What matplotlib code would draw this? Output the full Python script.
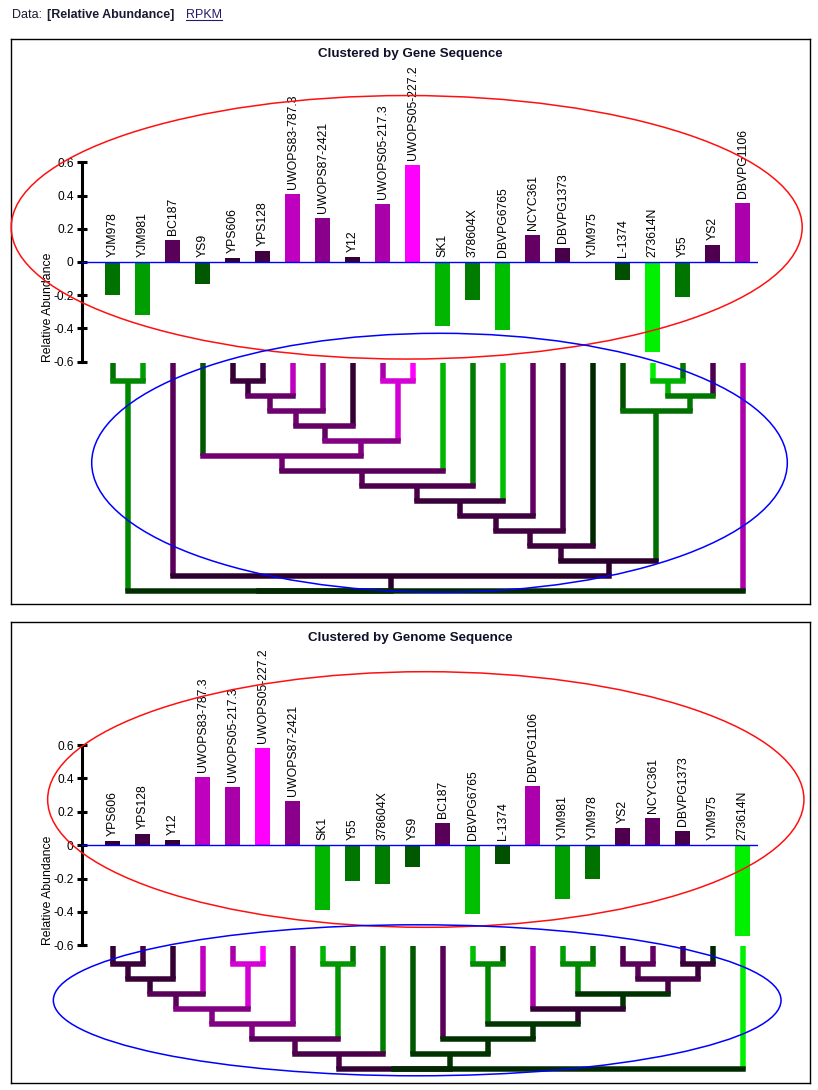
import matplotlib.pyplot as plt
import numpy as np
from matplotlib.patches import Ellipse
from matplotlib.lines import Line2D
from matplotlib.transforms import IdentityTransform

plt.rcParams['font.family'] = ['Liberation Sans', 'DejaVu Sans']

# strains in the gene-sequence order, with their relative abundance
strains = ['YJM978', 'YJM981', 'BC187', 'YS9', 'YPS606', 'YPS128', 'UWOPS83-787.3',
           'UWOPS87-2421', 'Y12', 'UWOPS05-217.3', 'UWOPS05-227.2', 'SK1', '378604X',
           'DBVPG6765', 'NCYC361', 'DBVPG1373', 'YJM975', 'L-1374', '273614N', 'Y55',
           'YS2', 'DBVPG1106']
abundance = [-0.20, -0.32, 0.134, -0.13, 0.026, 0.068, 0.41,
             0.266, 0.032, 0.35, 0.584, -0.386, -0.23,
             -0.41, 0.164, 0.086, 0.0, -0.11, -0.542, -0.212,
             0.104, 0.356]

genome_order = ['YPS606', 'YPS128', 'Y12', 'UWOPS83-787.3', 'UWOPS05-217.3', 'UWOPS05-227.2',
                'UWOPS87-2421', 'SK1', 'Y55', '378604X', 'YS9', 'BC187', 'DBVPG6765', 'L-1374',
                'DBVPG1106', 'YJM981', 'YJM978', 'YS2', 'NCYC361', 'DBVPG1373', 'YJM975', '273614N']

# merges: (left, right, level) -- strings are leaves, ints point to an earlier merge
gene_merges = [
    ('YJM978', 'YJM981', 1),
    ('YPS606', 'YPS128', 1),
    (1, 'UWOPS83-787.3', 2),
    (2, 'UWOPS87-2421', 3),
    (3, 'Y12', 4),
    ('UWOPS05-217.3', 'UWOPS05-227.2', 1),
    (4, 5, 5),
    ('YS9', 6, 6),
    (7, 'SK1', 7),
    (8, '378604X', 8),
    (9, 'DBVPG6765', 9),
    (10, 'NCYC361', 10),
    (11, 'DBVPG1373', 11),
    (12, 'YJM975', 12),
    ('273614N', 'Y55', 1),
    (14, 'YS2', 2),
    ('L-1374', 15, 3),
    (13, 16, 13),
    ('BC187', 17, 14),
    (0, 18, 15),
    (19, 'DBVPG1106', 15),
]
genome_merges = [
    ('YPS606', 'YPS128', 1),
    (0, 'Y12', 2),
    (1, 'UWOPS83-787.3', 3),
    ('UWOPS05-217.3', 'UWOPS05-227.2', 1),
    (2, 3, 4),
    (4, 'UWOPS87-2421', 5),
    ('SK1', 'Y55', 1),
    (5, 6, 6),
    (7, '378604X', 7),
    ('DBVPG6765', 'L-1374', 1),
    ('YJM981', 'YJM978', 1),
    ('YS2', 'NCYC361', 1),
    ('DBVPG1373', 'YJM975', 1),
    (11, 12, 2),
    (10, 13, 3),
    ('DBVPG1106', 14, 4),
    (9, 15, 5),
    ('BC187', 16, 6),
    ('YS9', 17, 7),
    (8, 18, 8),
    (19, '273614N', 8),
]

yticks = [0.6, 0.4, 0.2, 0, -0.2, -0.4, -0.6]
ytick_labels = ['0.6', '0.4', '0.2', '0', '-0.2', '-0.4', '-0.6']

value = dict(zip(strains, abundance))

W, H = 818, 1090
fig = plt.figure(figsize=(W / 100, H / 100), dpi=100)
LW = 5.5 * 0.72
LEAF_TOP = -0.17


def px_axes(x0, y0, x1, y1):
    return fig.add_axes([x0 / W, 1 - y1 / H, (x1 - x0) / W, (y1 - y0) / H])


def shade(v):
    k = min(1.0, abs(v) / 0.584)
    c = (40 + k * 215) / 255
    return (c, 0, c) if v > 0.003 else (0, c, 0)


def draw_panel(order, merges, title, box, bar_y, dend_y, dend_max):
    frame = px_axes(11, box[0], 810, box[1])
    frame.set_xticks([])
    frame.set_yticks([])
    for sp in frame.spines.values():
        sp.set_linewidth(1)
    frame.annotate(title, xy=(0.5, 1), xycoords='axes fraction', xytext=(0, -16),
                   textcoords='offset pixels', ha='center', va='center',
                   fontsize=9.6, weight='bold', color='#10102a')

    vals = [value[s] for s in order]
    x = np.arange(len(order))
    ax = px_axes(81.7, bar_y[0], 757.7, bar_y[1])
    ax.patch.set_alpha(0)
    ax.bar(x, vals, width=0.5, color=[shade(v) for v in vals], zorder=2)
    ax.axhline(0, color='#0000ff', lw=1, zorder=3)
    ax.set_xlim(-1.03, 21.5)
    ax.set_ylim(-0.6, 0.6)
    for s in ['top', 'right', 'bottom']:
        ax.spines[s].set_visible(False)
    ax.spines['left'].set_linewidth(2.2)
    ax.set_xticks([])
    ax.set_yticks(yticks, ytick_labels)
    ax.tick_params(axis='y', direction='inout', length=7, width=2.2, pad=2.4, labelsize=8.6)
    for i, v in enumerate(vals):
        ax.annotate(order[i], xy=(i, max(v, 0)), xytext=(0, 5), textcoords='offset pixels',
                    rotation=90, ha='center', va='bottom', fontsize=8.8)
    ax.text(-0.05, 0, 'Relative Abundance', transform=ax.transAxes, rotation=90,
            ha='center', va='bottom', fontsize=8.8)

    d = px_axes(81.7, dend_y, 757.7, dend_y + 15 * (dend_max + 1))
    d.set_xlim(-1.03, 21.5)
    d.set_ylim(dend_max, -1)
    d.axis('off')
    pos = {s: i for i, s in enumerate(order)}
    nodes = []

    def get(ref):
        if isinstance(ref, str):
            return pos[ref], LEAF_TOP, [ref]
        return nodes[ref]

    for a, b, lev in merges:
        xa, la, ma = get(a)
        xb, lb, mb = get(b)
        for xc, lc, mc in [(xa, la, ma), (xb, lb, mb)]:
            d.plot([xc, xc], [lc, lev], color=shade(np.mean([value[s] for s in mc])),
                   lw=LW, solid_capstyle='butt', zorder=2, clip_on=False)
        members = ma + mb
        d.plot([xa, xb], [lev, lev], color=shade(np.mean([value[s] for s in members])),
               lw=LW, solid_capstyle='projecting', zorder=3, clip_on=False)
        nodes.append(((xa + xb) / 2, lev, members))


draw_panel(strains, gene_merges, 'Clustered by Gene Sequence',
           (38.5, 604), (162.3, 361.7), 350.5, 16)
draw_panel(genome_order, genome_merges, 'Clustered by Genome Sequence',
           (621.5, 1082.5), (745, 945.3), 933.7, 9)

# hand-drawn highlight ellipses
for cx, cy, w, h, col in [(406.7, 227.3, 791, 263.5, '#ff1010'),
                          (439.5, 462.8, 695.6, 259, '#0000ff'),
                          (425.8, 799.5, 756.3, 255.6, '#ff1010'),
                          (417.2, 1000.3, 727.7, 151, '#0000ff')]:
    fig.add_artist(Ellipse((cx / W, 1 - cy / H), w / W, h / H, transform=fig.transFigure,
                           fill=False, ec=col, lw=1.1, zorder=5))

# header line
fig.text(11.7 / W, 1 - 15 / H, 'Data:', fontsize=9, va='center', color='#1a1a33')
fig.text(46.7 / W, 1 - 15 / H, '[Relative Abundance]', fontsize=9, va='center',
         weight='bold', color='#1a1a33')
t3 = fig.text(186 / W, 1 - 15 / H, 'RPKM', fontsize=9, va='center', color='#2a1a66')
fig.canvas.draw()
bb = t3.get_window_extent()
fig.add_artist(Line2D([bb.x0, bb.x1], [bb.y0 + 1, bb.y0 + 1], transform=IdentityTransform(),
                      color='#2a1a66', lw=0.8))

fig.savefig('out.png', dpi=100)
